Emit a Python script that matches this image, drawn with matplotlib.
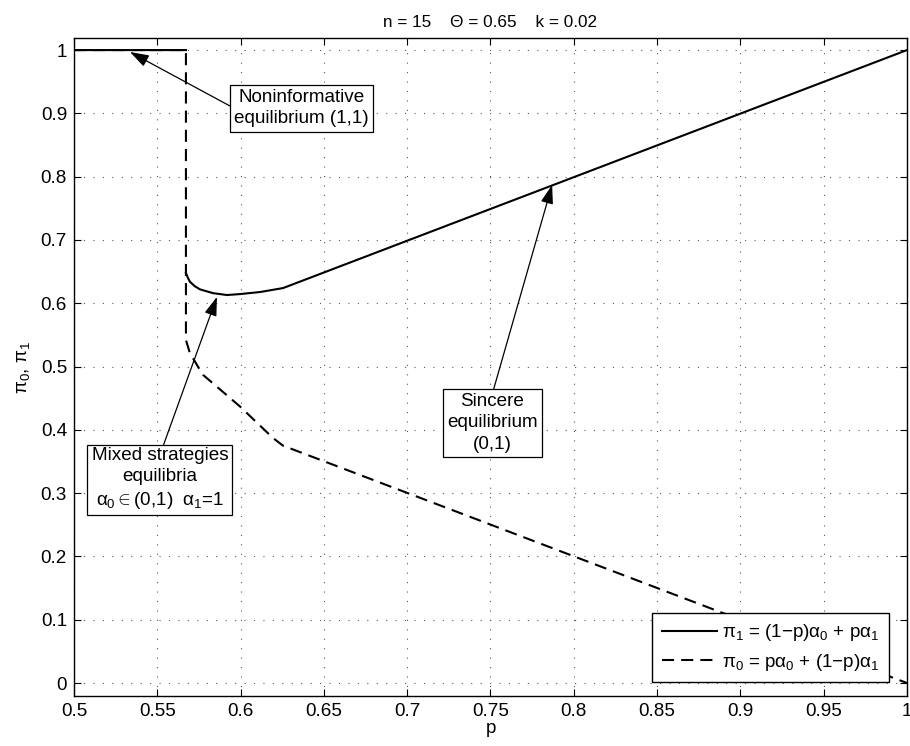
import matplotlib
matplotlib.use("Agg")
import matplotlib.pyplot as plt
import numpy as np

# values
p_pi1 = [0.5, 0.5672, np.nan, 0.5672, 0.5684, 0.5696, 0.5725, 0.5756,
         0.5834, 0.5918, 0.5996, 0.6116, 0.6255, 1.0]
pi1 = [1.0, 1.0, np.nan, 0.648, 0.640, 0.634, 0.627, 0.622,
       0.616, 0.613, 0.6145, 0.6177, 0.624, 1.0]

p_pi0 = [0.5, 0.5672, 0.5672, 0.5696, 0.5774, 0.5996, 0.6195, 0.6255, 1.0]
pi0 = [1.0, 1.0, 0.542, 0.521, 0.487, 0.437, 0.387, 0.375, 0.0]

xticks = [0.5, 0.55, 0.6, 0.65, 0.7, 0.75, 0.8, 0.85, 0.9, 0.95, 1.0]
xtick_labels = ["0.5", "0.55", "0.6", "0.65", "0.7", "0.75", "0.8",
                "0.85", "0.9", "0.95", "1"]
yticks = [0, 0.1, 0.2, 0.3, 0.4, 0.5, 0.6, 0.7, 0.8, 0.9, 1.0]
ytick_labels = ["0", "0.1", "0.2", "0.3", "0.4", "0.5", "0.6", "0.7",
                "0.8", "0.9", "1"]

# (text, arrow tip, text centre, relpos of arrow start on box)
notes = [
    ("Noninformative\nequilibrium (1,1)", (0.5336, 0.997), (0.6366, 0.908), (0, 0.5)),
    ("Mixed strategies\nequilibria\n$\\alpha_0$$\\in$(0,1)  $\\alpha_1$=1",
     (0.5858, 0.610), (0.5516, 0.322), (0.52, 1)),
    ("Sincere\nequilibrium\n(0,1)", (0.787, 0.787), (0.7512, 0.411), (0.5, 1)),
]


def main():
    plt.rcParams['font.family'] = ['Liberation Sans', 'DejaVu Sans']
    plt.rcParams['mathtext.fontset'] = 'custom'
    plt.rcParams['mathtext.rm'] = 'Liberation Sans'
    plt.rcParams['mathtext.it'] = 'Liberation Sans'
    fs = 13.6
    fig = plt.figure(figsize=(9.1, 7.46), dpi=100)
    ax = fig.add_axes([0.0813, 0.067, 0.9154, 0.882])

    ax.plot(p_pi1, pi1, color='black', lw=1.5,
            label='$\\pi_1$ = (1$-$p)$\\alpha_0$ + p$\\alpha_1$')
    ax.plot(p_pi0, pi0, color='black', lw=1.5, dashes=(5.8, 3.4),
            label='$\\pi_0$ = p$\\alpha_0$ + (1$-$p)$\\alpha_1$')

    ax.set_xlim(0.5, 1.0)
    ax.set_ylim(-0.0205, 1.019)
    ax.set_xticks(xticks)
    ax.set_xticklabels(xtick_labels)
    ax.set_yticks(yticks)
    ax.set_yticklabels(ytick_labels)
    ax.tick_params(direction='in', length=5, width=0.8, top=True,
                   right=True, labelsize=fs, pad=5)
    ax.grid(True, color='0.35', linestyle=(0, (1, 7.5)), linewidth=0.8)
    for s in ax.spines.values():
        s.set_linewidth(1.0)

    ax.set_title("n = 15    \u0398 = 0.65    k = 0.02", fontsize=12.3, pad=8)
    ax.set_xlabel("p", fontsize=fs, labelpad=0)
    ax.set_ylabel("$\\pi_0$, $\\pi_1$", fontsize=fs, labelpad=6)

    for txt, tip, pos, rp in notes:
        ax.annotate(txt, xy=tip, xytext=pos, ha='center', va='center',
                    fontsize=fs, linespacing=1.32,
                    bbox=dict(boxstyle='square,pad=0.22', fc='white',
                              ec='black', lw=0.9),
                    arrowprops=dict(arrowstyle='-|>,head_length=0.85,head_width=0.28',
                                    color='black', lw=0.9, relpos=rp,
                                    shrinkA=0, shrinkB=0))

    leg = ax.legend(loc='lower right', bbox_to_anchor=(0.978, 0.021),
                    borderaxespad=0, fontsize=fs, fancybox=False,
                    edgecolor='black', framealpha=1, handlelength=2.9,
                    handletextpad=0.27, borderpad=0.5, labelspacing=0.45)
    leg.get_frame().set_linewidth(1.0)

    fig.savefig("out.png", dpi=100)


if __name__ == "__main__":
    main()
